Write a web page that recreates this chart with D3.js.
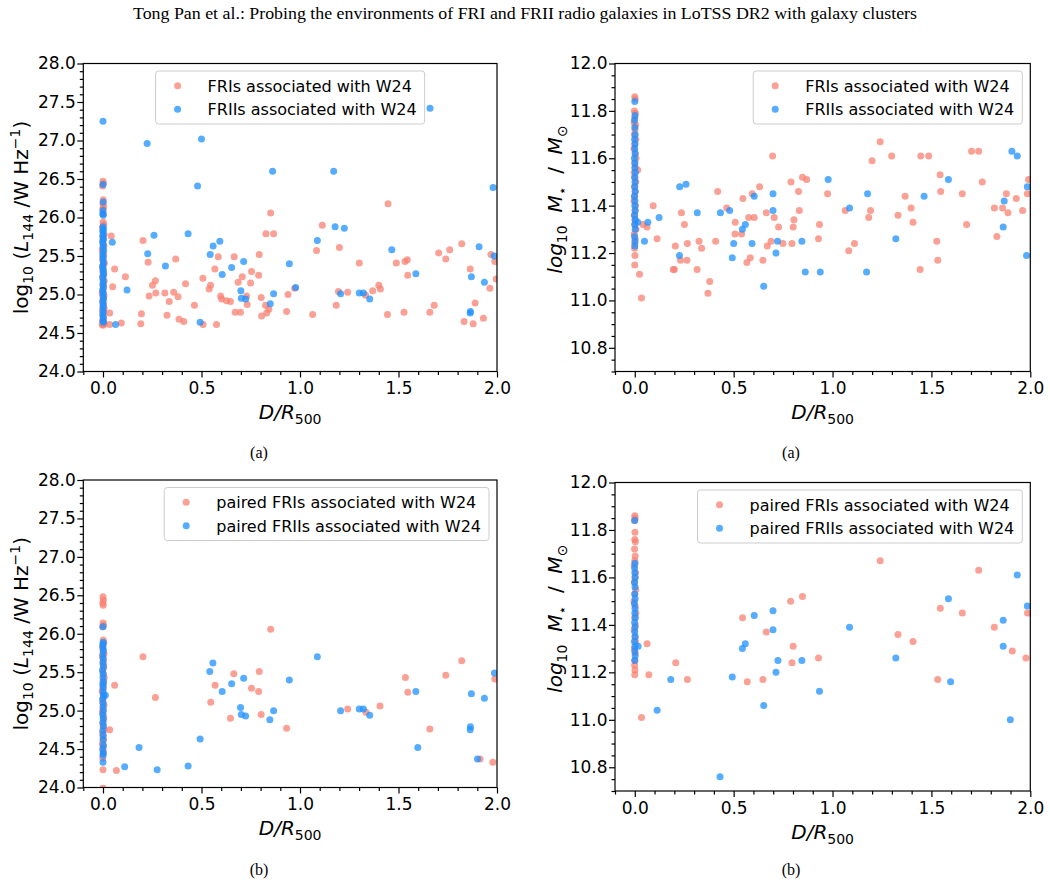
<!DOCTYPE html>
<html><head><meta charset="utf-8">
<script src="https://cdn.jsdelivr.net/npm/d3@7"></script>
<style>body{margin:0;background:#fff} svg{display:block}</style>
</head><body><svg id="c" width="1050" height="887"></svg>
<script>
// ---------------- DATA ----------------
const pageTitle = "Tong Pan et al.: Probing the environments of FRI and FRII radio galaxies in LoTSS DR2 with galaxy clusters";
const xTicks = [0.0, 0.5, 1.0, 1.5, 2.0];
const lumTicks = [24.0, 24.5, 25.0, 25.5, 26.0, 26.5, 27.0, 27.5, 28.0];
const massTicks = [10.8, 11.0, 11.2, 11.4, 11.6, 11.8, 12.0];
const legendTop = ["FRIs associated with W24", "FRIIs associated with W24"];
const legendBottom = ["paired FRIs associated with W24", "paired FRIIs associated with W24"];
const captions = ["(a)", "(a)", "(b)", "(b)"];

// [D/R500, log10 L144] : FRIs, top-left
const lumFRI = [
[0.000,26.47],[0.002,26.44],[-0.002,26.41],[0.001,26.23],[0.000,26.18],[0.003,26.14],[-0.001,26.11],[0.002,26.05],[0.000,25.94],[0.004,25.91],[-0.003,25.87],[0.001,25.83],[0.006,25.78],[-0.002,25.75],[0.002,25.71],[0.000,25.66],[0.005,25.63],[-0.004,25.58],[0.001,25.55],[0.003,25.51],[-0.002,25.48],[0.000,25.44],[0.007,25.41],[0.002,25.38],[-0.003,25.35],[0.001,25.31],[0.004,25.28],[0.000,25.25],[-0.002,25.22],[0.006,25.18],[0.002,25.15],[-0.001,25.12],[0.003,25.09],[0.000,25.05],[-0.004,25.02],[0.005,24.99],[0.001,24.95],[-0.002,24.92],[0.003,24.88],[0.000,24.85],[0.006,24.82],[-0.003,24.79],[0.002,24.76],[0.000,24.72],[0.004,24.69],[-0.002,24.66],[0.001,24.64],[0.007,24.62],[0.000,24.60],[-0.004,24.61],
[0.042,25.76],[0.059,25.33],[0.049,25.10],[0.034,24.76],[0.034,24.61],[0.093,24.63],[0.114,25.23],[0.195,24.75],[0.192,24.62],[0.203,25.70],[0.229,25.42],[0.251,25.12],[0.266,25.18],[0.234,24.98],[0.268,25.02],[0.314,25.02],[0.336,24.91],[0.325,24.73],[0.359,25.03],[0.381,24.97],[0.369,25.46],[0.386,24.68],[0.410,24.65],[0.419,25.14],[0.464,24.86],[0.507,25.21],[0.508,24.61],[0.546,25.12],[0.539,25.07],[0.568,25.33],[0.585,25.49],[0.576,24.61],[0.597,24.98],[0.602,24.94],[0.627,24.92],[0.647,24.91],[0.666,25.49],[0.686,25.16],[0.707,25.23],[0.671,24.77],[0.698,24.77],[0.729,24.98],[0.732,24.87],[0.754,25.30],[0.749,25.15],[0.790,25.25],[0.793,25.52],[0.803,24.96],[0.825,24.86],[0.831,24.76],[0.805,24.72],[0.842,24.81],[0.827,25.79],[0.866,25.79],[0.851,26.06],[0.932,24.78],[0.939,25.00],[0.973,25.08],
[1.113,25.90],[1.084,25.57],[1.200,25.61],[1.064,24.74],[1.184,24.86],[1.195,25.04],[1.242,25.03],[1.301,25.41],[1.333,24.99],[1.369,25.05],[1.400,25.12],[1.408,25.07],[1.447,26.18],[1.444,24.74],[1.489,25.41],[1.533,25.43],[1.545,25.45],[1.547,25.25],[1.528,24.77],[1.659,24.77],[1.681,24.86],[1.704,25.54],[1.740,25.46],[1.760,25.58],[1.821,25.66],[1.864,25.33],[1.889,24.89],[1.833,24.65],[1.879,24.62],[1.931,24.69],[1.964,25.08],[1.969,25.52],[1.989,25.43],[1.996,25.20]
];
// FRIIs, top-left
const lumFRII = [
[0.000,27.25],[0.000,26.43],[0.001,26.20],[0.000,26.09],[-0.001,26.05],[0.001,26.03],[0.000,25.88],[0.002,25.85],[-0.001,25.82],[0.001,25.79],[0.000,25.76],[0.002,25.72],[-0.002,25.69],[0.001,25.65],[0.000,25.61],[0.003,25.57],[-0.001,25.53],[0.001,25.49],[0.000,25.45],[0.002,25.41],[-0.002,25.37],[0.001,25.33],[0.000,25.30],[0.003,25.26],[-0.001,25.22],[0.001,25.18],[0.000,25.14],[0.002,25.10],[-0.002,25.06],[0.001,25.02],[0.000,24.98],[0.003,24.94],[-0.001,24.90],[0.001,24.86],[0.000,24.82],[0.002,24.78],[-0.001,24.74],[0.001,24.70],[0.000,24.66],[0.002,24.64],
[0.047,25.68],[0.064,24.61],[0.122,25.06],[0.224,26.96],[0.500,27.02],[0.480,26.41],[0.861,26.60],[0.259,25.77],[0.432,25.79],[0.227,25.53],[0.317,25.37],[0.593,25.69],[0.559,25.63],[0.544,25.52],[0.605,25.26],[0.653,25.35],[0.714,25.43],[0.700,25.05],[0.702,24.95],[0.724,24.94],[0.866,25.01],[0.849,24.88],[0.493,24.64],[0.946,25.40],[0.978,25.09],
[1.660,27.42],[1.171,26.60],[1.980,26.39],[1.178,25.88],[1.225,25.86],[1.088,25.70],[1.466,25.58],[1.588,25.27],[1.206,25.01],[1.301,25.02],[1.322,25.02],[1.354,24.94],[1.909,25.62],[1.870,25.23],[1.936,25.16],[1.986,25.50],[1.865,24.78],[1.864,24.76]
];
// paired FRIs, bottom-left
const pairLumFRI = [
[0.000,26.48],[0.002,26.44],[-0.001,26.40],[0.001,26.37],[0.000,26.14],[0.003,26.11],[-0.002,26.09],[0.001,25.92],[0.004,25.88],[-0.002,25.83],[0.000,25.79],[0.005,25.74],[-0.003,25.70],[0.002,25.66],[0.000,25.61],[0.004,25.56],[-0.002,25.52],[0.001,25.47],[0.006,25.43],[-0.001,25.38],[0.002,25.34],[0.000,25.29],[-0.004,25.25],[0.003,25.20],[0.001,25.16],[-0.002,25.11],[0.005,25.07],[0.000,25.02],[-0.003,24.98],[0.002,24.93],[0.004,24.89],[-0.001,24.84],[0.001,24.80],[0.006,24.75],[-0.002,24.71],[0.000,24.66],[0.003,24.62],[-0.003,24.57],[0.001,24.53],[0.000,24.48],[0.002,24.45],[-0.001,24.38],[0.000,24.23],[0.000,23.99],
[0.059,25.33],[0.034,24.75],[0.068,24.22],[0.203,25.70],[0.266,25.17],[0.664,25.48],[0.569,25.33],[0.547,25.11],[0.647,24.90],[0.754,25.29],[0.793,25.51],[0.790,25.25],[0.803,24.95],[0.851,26.06],[0.932,24.77],
[1.242,25.02],[1.335,24.98],[1.406,25.06],[1.535,25.43],[1.547,25.24],[1.659,24.76],[1.740,25.46],[1.821,25.65],[1.914,24.37],[1.979,24.33],[1.989,25.41]
];
// paired FRIIs, bottom-left
const pairLumFRII = [
[0.000,26.09],[0.001,25.89],[-0.001,25.86],[0.000,25.82],[0.002,25.78],[-0.001,25.73],[0.001,25.68],[0.000,25.63],[0.002,25.58],[-0.002,25.53],[0.001,25.48],[0.000,25.43],[0.003,25.38],[-0.001,25.34],[0.001,25.30],[0.000,25.25],[0.002,25.20],[-0.002,25.15],[0.001,25.10],[0.000,25.05],[0.002,25.00],[-0.001,24.95],[0.001,24.90],[0.000,24.85],[0.002,24.80],[-0.001,24.74],[0.001,24.68],[0.000,24.62],[0.002,24.55],[-0.001,24.50],[0.001,24.45],[0.000,24.42],[0.000,24.33],
[0.012,25.20],[0.183,24.52],[0.110,24.27],[0.275,24.23],[0.432,24.28],[0.493,24.63],[0.542,25.51],[0.558,25.62],[0.605,25.25],[0.653,25.35],[0.714,25.42],[0.698,25.04],[0.702,24.95],[0.724,24.93],[0.866,25.00],[0.847,24.88],[0.946,25.40],
[1.088,25.70],[1.206,25.00],[1.301,25.02],[1.322,25.02],[1.354,24.94],[1.588,25.25],[1.598,24.52],[1.870,25.22],[1.936,25.16],[1.987,25.49],[1.865,24.79],[1.864,24.75],[1.901,24.37]
];
// [D/R500, log10 M*] : FRIs, top-right
const massFRI = [
[0.000,11.86],[0.002,11.85],[-0.002,11.80],[0.003,11.79],[0.000,11.77],[-0.003,11.75],[0.004,11.74],[0.001,11.72],[-0.002,11.70],[0.005,11.68],[0.000,11.66],[-0.004,11.64],[0.002,11.62],[0.006,11.60],[-0.001,11.58],[0.003,11.56],[-0.003,11.54],[0.001,11.52],[0.005,11.50],[-0.002,11.48],[0.002,11.46],[0.000,11.44],[-0.004,11.42],[0.004,11.40],[0.001,11.38],[-0.002,11.36],[0.003,11.34],[0.000,11.32],[0.006,11.30],[-0.003,11.28],[0.002,11.26],[0.000,11.24],[-0.001,11.22],[0.001,11.19],[0.000,11.15],
[0.015,11.55],[0.042,11.32],[0.062,11.31],[0.093,11.40],[0.113,11.26],[0.205,11.23],[0.195,11.13],[0.200,11.13],[0.231,11.17],[0.236,11.37],[0.251,11.32],[0.266,11.24],[0.264,11.17],[0.315,11.13],[0.325,11.25],[0.338,11.22],[0.379,11.08],[0.370,11.03],[0.409,11.25],[0.419,11.46],[0.465,11.39],[0.508,11.33],[0.507,11.28],[0.540,11.28],[0.547,11.43],[0.576,11.35],[0.584,11.18],[0.567,11.16],[0.594,11.45],[0.604,11.35],[0.631,11.48],[0.648,11.17],[0.665,11.37],[0.670,11.23],[0.689,11.25],[0.697,11.61],[0.705,11.35],[0.727,11.31],[0.749,11.24],[0.790,11.50],[0.795,11.24],[0.801,11.31],[0.805,11.34],[0.828,11.46],[0.832,11.38],[0.848,11.52],[0.869,11.51],[0.934,11.32],[0.929,11.26],[0.024,11.11],[0.034,11.01],
[0.975,11.45],[1.064,11.38],[1.082,11.21],[1.111,11.24],[1.183,11.35],[1.192,11.38],[1.200,11.59],[1.241,11.67],[1.299,11.61],[1.331,11.36],[1.367,11.44],[1.397,11.39],[1.407,11.33],[1.443,11.13],[1.446,11.61],[1.486,11.61],[1.527,11.25],[1.532,11.17],[1.544,11.53],[1.547,11.46],[1.656,11.45],[1.678,11.32],[1.703,11.63],[1.739,11.63],[1.757,11.50],[1.818,11.39],[1.831,11.27],[1.860,11.39],[1.879,11.45],[1.887,11.37],[1.929,11.43],[1.961,11.38],[1.985,11.45],[1.991,11.51]
];
// FRIIs, top-right
const massFRII = [
[0.000,11.84],[0.001,11.78],[-0.001,11.76],[0.000,11.73],[0.002,11.70],[-0.001,11.68],[0.001,11.66],[0.000,11.64],[0.002,11.62],[-0.002,11.60],[0.001,11.58],[0.000,11.56],[0.003,11.54],[-0.001,11.52],[0.001,11.50],[0.000,11.48],[0.002,11.46],[-0.002,11.44],[0.001,11.42],[0.000,11.40],[0.002,11.38],[-0.001,11.36],[0.001,11.34],[0.000,11.32],[0.002,11.30],[-0.001,11.27],[0.001,11.25],[0.000,11.23],
[0.015,11.33],[0.049,11.25],[0.066,11.33],[0.123,11.35],[0.227,11.48],[0.259,11.49],[0.226,11.19],[0.316,11.37],[0.433,11.37],[0.480,11.38],[0.500,11.24],[0.493,11.18],[0.544,11.30],[0.559,11.32],[0.593,11.24],[0.604,11.44],[0.652,11.06],[0.699,11.45],[0.699,11.38],[0.714,11.20],[0.722,11.25],[0.845,11.25],[0.862,11.12],[0.938,11.12],
[0.978,11.51],[1.086,11.39],[1.177,11.45],[1.172,11.12],[1.320,11.26],[1.463,11.44],[1.586,11.51],[1.868,11.42],[1.863,11.31],[1.907,11.63],[1.934,11.61],[1.985,11.48],[1.981,11.19]
];
// paired FRIs, bottom-right
const pairMassFRI = [
[0.000,11.86],[0.002,11.85],[-0.002,11.84],[0.001,11.79],[0.000,11.76],[0.003,11.75],[-0.001,11.72],[0.002,11.69],[0.000,11.67],[-0.003,11.65],[0.004,11.62],[0.001,11.60],[-0.002,11.58],[0.005,11.55],[0.000,11.53],[-0.004,11.50],[0.002,11.48],[0.006,11.45],[-0.001,11.43],[0.003,11.40],[-0.003,11.38],[0.001,11.35],[0.004,11.33],[-0.002,11.30],[0.002,11.28],[0.000,11.25],[-0.001,11.23],[0.001,11.21],[0.000,11.19],
[0.062,11.32],[0.071,11.19],[0.034,11.01],[0.207,11.24],[0.266,11.17],[0.545,11.43],[0.569,11.16],[0.648,11.17],[0.665,11.37],[0.788,11.50],[0.801,11.31],[0.795,11.24],[0.848,11.52],[0.929,11.26],
[1.241,11.67],[1.331,11.36],[1.407,11.33],[1.532,11.17],[1.545,11.47],[1.656,11.45],[1.739,11.63],[1.818,11.39],[1.909,11.29],[1.978,11.26],[1.986,11.45]
];
// paired FRIIs, bottom-right
const pairMassFRII = [
[0.000,11.84],[0.001,11.66],[-0.001,11.64],[0.000,11.62],[0.002,11.60],[-0.001,11.58],[0.001,11.56],[0.000,11.53],[0.002,11.51],[-0.002,11.49],[0.001,11.47],[0.000,11.45],[0.003,11.43],[-0.001,11.41],[0.001,11.39],[0.000,11.37],[0.002,11.35],[-0.002,11.33],[0.001,11.31],[0.000,11.29],[0.002,11.27],[0.000,11.25],
[0.017,11.31],[0.113,11.04],[0.182,11.17],[0.431,10.76],[0.493,11.18],[0.544,11.30],[0.559,11.32],[0.604,11.44],[0.652,11.06],[0.699,11.46],[0.699,11.38],[0.714,11.20],[0.724,11.25],[0.845,11.25],[0.934,11.12],
[1.086,11.39],[1.320,11.26],[1.586,11.51],[1.597,11.16],[1.863,11.42],[1.863,11.31],[1.899,11.00],[1.934,11.61],[1.985,11.48]
];

// ---------------- DRAWING ----------------
const SALMON = "#fa8072", BLUE = "#1e90ff", ALPHA = 0.75;
const FONT = "'DejaVu Sans', sans-serif", SERIF = "'Liberation Serif', 'Times New Roman', serif";
const svg = d3.select("#c");

svg.append("text").attr("x", 525).attr("y", 19).attr("text-anchor", "middle")
  .attr("textLength", 784).attr("lengthAdjust", "spacingAndGlyphs")
  .style("font-family", SERIF).style("font-size", "16px").text(pageTitle);

const lumLabel = [{t:"log"},{t:"10",s:"sub"},{t:" ("},{t:"L",i:1},{t:"144",s:"sub"},{t:" /W Hz"},{t:"\u22121",s:"sup"},{t:")"}];
const massLabel = [{t:"log",i:1},{t:"10",s:"sub"},{t:"  "},{t:"M",i:1},{t:"\u22c6",s:"sub"},{t:"  /  "},{t:"M",i:1},{t:"\u2299",s:"sub"}];
const xLabel = [{t:"D/R",i:1},{t:"500",s:"sub"}];

const panels = [
 {fri: lumFRI, frii: lumFRII, l:83.3, r:497, t:63.5, b:371.5, yd:[24,28], yt:lumTicks, minor:0.1, leg:legendTop, loc:"center", yl:lumLabel, ylx:-55, yly:0, cap:captions[0], capx:259, capy:458},
 {fri: massFRI, frii: massFRII, l:615, r:1030.3, t:63.5, b:371.5, yd:[10.7,12], yt:massTicks, minor:0.05, leg:legendTop, loc:"right", yl:massLabel, ylx:-53, yly:-18, cap:captions[1], capx:791, capy:458},
 {fri: pairLumFRI, frii: pairLumFRII, l:83.3, r:497, t:480, b:787.5, yd:[24,28], yt:lumTicks, minor:0.1, leg:legendBottom, loc:"right", yl:lumLabel, ylx:-55, yly:0, cap:captions[2], capx:259, capy:875},
 {fri: pairMassFRI, frii: pairMassFRII, l:615, r:1030.3, t:482.5, b:791, yd:[10.7,12], yt:massTicks, minor:0.05, leg:legendBottom, loc:"right", yl:massLabel, ylx:-53, yly:-18, cap:captions[3], capx:791, capy:875}
];

function rich(text, parts, size) {
  let off = 0;
  parts.forEach(p => {
    const ts = text.append("tspan").text(p.t);
    let target = 0, fs = size;
    if (p.s === "sub") { target = size * 0.25; fs = size * 0.7; }
    if (p.s === "sup") { target = -size * 0.42; fs = size * 0.7; }
    ts.attr("dy", target - off).style("font-size", fs + "px");
    if (p.i) ts.style("font-style", "italic");
    off = target;
  });
}

panels.forEach((p, pi) => {
  const g = svg.append("g");
  const x = d3.scaleLinear().domain([-0.1, 2.0]).range([p.l, p.r]);
  const y = d3.scaleLinear().domain(p.yd).range([p.b, p.t]);
  const cid = "clip" + pi;
  g.append("clipPath").attr("id", cid).append("rect")
    .attr("x", p.l).attr("y", p.t).attr("width", p.r - p.l).attr("height", p.b - p.t);
  const pts = g.append("g").attr("clip-path", `url(#${cid})`);
  pts.selectAll("circle.fri").data(p.fri).join("circle").attr("class", "fri")
    .attr("cx", d => x(d[0])).attr("cy", d => y(d[1])).attr("r", 3.5)
    .attr("fill", SALMON).attr("fill-opacity", ALPHA);
  pts.selectAll("circle.frii").data(p.frii).join("circle").attr("class", "frii")
    .attr("cx", d => x(d[0])).attr("cy", d => y(d[1])).attr("r", 3.5)
    .attr("fill", BLUE).attr("fill-opacity", ALPHA);

  // axes
  const xMinor = d3.range(-1, 21).map(k => k / 10).filter(v => Math.abs(v * 2 - Math.round(v * 2)) > 1e-6);
  const yMinorVals = d3.range(Math.round(p.yd[0] / p.minor), Math.round(p.yd[1] / p.minor) + 1)
    .map(k => +(k * p.minor).toFixed(3)).filter(v => !p.yt.some(t => Math.abs(t - v) < 1e-6));
  const style = sel => {
    sel.select(".domain").remove();
    sel.selectAll("line").attr("stroke", "#000").attr("stroke-width", 1.2);
    sel.selectAll("text").style("font-family", FONT).style("font-size", "17px").attr("fill", "#000");
  };
  g.append("g").attr("transform", `translate(0,${p.b})`)
    .call(d3.axisBottom(x).tickValues(xMinor).tickSize(3.5).tickFormat("")).call(style);
  g.append("g").attr("transform", `translate(0,${p.b})`)
    .call(d3.axisBottom(x).tickValues(xTicks).tickSize(6).tickPadding(4.5).tickFormat(d3.format(".1f"))).call(style);
  g.append("g").attr("transform", `translate(${p.l},0)`)
    .call(d3.axisLeft(y).tickValues(yMinorVals).tickSize(3.5).tickFormat("")).call(style);
  g.append("g").attr("transform", `translate(${p.l},0)`)
    .call(d3.axisLeft(y).tickValues(p.yt).tickSize(6).tickPadding(1.5).tickFormat(d3.format(".1f"))).call(style);

  g.append("rect").attr("x", p.l).attr("y", p.t).attr("width", p.r - p.l).attr("height", p.b - p.t)
    .attr("fill", "none").attr("stroke", "#000").attr("stroke-width", 1.2);

  // axis labels
  const xl = g.append("text").attr("x", (p.l + p.r) / 2).attr("y", p.b + 47.5)
    .attr("text-anchor", "middle").style("font-family", FONT).style("font-size", "20px");
  rich(xl, xLabel, 20);
  const yl = g.append("text").attr("transform", `translate(${p.l + p.ylx},${(p.t + p.b) / 2 + p.yly}) rotate(-90)`)
    .attr("text-anchor", "middle").style("font-family", FONT).style("font-size", "20px").style("white-space", "pre");
  rich(yl, p.yl, 20);

  // legend
  const lg = g.append("g");
  const box = lg.append("rect");
  const texts = p.leg.map((t, k) => lg.append("text").style("font-family", FONT).style("font-size", "16px").text(t));
  const tw = d3.max(texts, t => t.node().getComputedTextLength());
  const lw = 52 + tw + 8, lh = 53;
  const lx = p.loc === "center" ? (p.l + p.r) / 2 - lw / 2 : p.r - 8 - lw;
  const ly = p.t + 7.5;
  box.attr("x", lx).attr("y", ly).attr("width", lw).attr("height", lh).attr("rx", 3)
    .attr("fill", "#fff").attr("fill-opacity", 0.8).attr("stroke", "#cccccc").attr("stroke-width", 1);
  [SALMON, BLUE].forEach((c, k) => {
    const cy = ly + 14.7 + k * 23.6;
    lg.append("circle").attr("cx", lx + 22).attr("cy", cy).attr("r", 3.5).attr("fill", c).attr("fill-opacity", ALPHA);
    texts[k].attr("x", lx + 52).attr("y", cy + 5.8);
  });

  svg.append("text").attr("x", p.capx).attr("y", p.capy).attr("text-anchor", "middle")
    .style("font-family", SERIF).style("font-size", "16px").text(p.cap);
});
</script></body></html>
